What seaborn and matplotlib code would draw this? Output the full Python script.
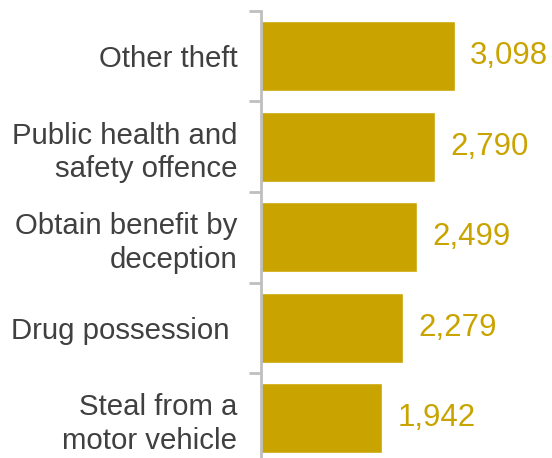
import matplotlib
matplotlib.use("Agg")
import matplotlib.pyplot as plt
import seaborn as sns
import pandas as pd

categories = [
    "Other theft",
    "Public health and\nsafety offence",
    "Obtain benefit by\ndeception",
    "Drug possession ",
    "Steal from a\nmotor vehicle",
]
counts = [3098, 2790, 2499, 2279, 1942]

gold = "#C9A400"
axis_grey = "#BFBFBF"
text_grey = "#404040"

sns.set_theme(style="white")
plt.rcParams["font.family"] = ["Liberation Sans", "DejaVu Sans"]

df = pd.DataFrame({"category": categories, "count": counts})

fig = plt.figure(figsize=(5.52, 4.58), dpi=100)
ax = fig.add_axes([261 / 552, -5.5 / 458, 1 - 261 / 552, 452.5 / 458])

sns.barplot(data=df, x="count", y="category", orient="h", color=gold,
            saturation=1, width=0.77, ax=ax)

ax.set_xlim(0, 4655)
ax.set_ylim(len(categories) - 0.5, -0.5)
ax.set_xlabel("")
ax.set_ylabel("")
ax.set_xticks([])

for s in ("top", "right", "bottom"):
    ax.spines[s].set_visible(False)
ax.spines["left"].set_color(axis_grey)
ax.spines["left"].set_linewidth(2)

# category labels without ticks; separator ticks between categories
ax.tick_params(axis="y", which="major", left=True, length=0, pad=17,
               labelsize=21.2, labelcolor=text_grey)
for lab in ax.get_yticklabels():
    lab.set_horizontalalignment("right")
    lab.set_linespacing(1.24)
ax.set_yticks([i - 0.5 for i in range(len(categories) + 1)], minor=True)
ax.tick_params(axis="y", which="minor", left=True, length=9, width=2,
               color=axis_grey, direction="out")

for i, v in enumerate(counts):
    ax.annotate(f"{v:,}", xy=(v, i), xytext=(11, 0), textcoords="offset points",
                va="center", ha="left", fontsize=22.5, color=gold)

fig.savefig("out.png", dpi=100)
